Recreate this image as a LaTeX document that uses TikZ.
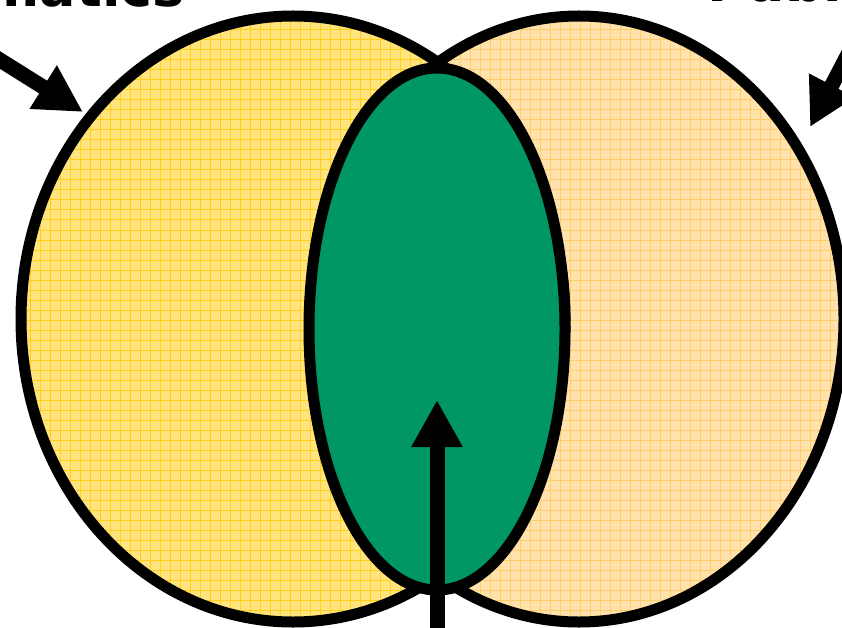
\documentclass[tikz,border=0pt]{standalone}
\usepackage{fontspec}
\setmainfont{DejaVu Sans}
\usetikzlibrary{arrows.meta}
\definecolor{mathfill}{RGB}{255,228,128}\definecolor{mathgrid}{RGB}{255,207,25}
\definecolor{pubfill}{RGB}{255,226,172}\definecolor{pubgrid}{RGB}{255,205,110}
\definecolor{common}{RGB}{0,151,101}
\tikzset{set/.style={draw=black,line width=11pt},gridlines/.style={line width=1pt},
pointer/.style={line width=15pt,-{Triangle[length=47pt,width=48pt]}},
title/.style={font=\bfseries\fontsize{54}{60}\selectfont,inner sep=0pt}}

\begin{document}
\begin{tikzpicture}[x=1pt,y=-1pt]
\useasboundingbox (0,0) rectangle (842,628);
% two sets, filled with a fine grid
\begin{scope}\clip (293,319) ellipse [x radius=272,y radius=303];
\fill[mathfill] (0,0) rectangle (842,628);
\draw[gridlines,mathgrid] (0,0) grid[step=10pt] (842,628);
\end{scope}
\begin{scope}\clip (579,319) ellipse [x radius=265,y radius=303];
\fill[pubfill] (0,0) rectangle (842,628);
\draw[gridlines,pubgrid] (0,0) grid[step=10pt] (842,628);
\end{scope}
\draw[set] (293,319) ellipse [x radius=272,y radius=303];
\draw[set] (579,319) ellipse [x radius=265,y radius=303];
\draw[set,fill=common] (437,329) ellipse [x radius=128,y radius=261];
% labels sit mostly above the picture
\node[title,anchor=base east] (math) at (185,7) {Mathematics};
\node[title,anchor=base west] (pub) at (707,2) {Public};
\coordinate (mathtail) at (-40,35);\coordinate (mathtip) at (83,112);
\coordinate (pubtail) at (866,20);\coordinate (pubtip) at (810,127);
\coordinate (bothtail) at (437,650);\coordinate (bothtip) at (437,400);
\draw[pointer] (mathtail)--(mathtip);
\draw[pointer] (pubtail)--(pubtip);
\draw[pointer] (bothtail)--(bothtip);
\end{tikzpicture}
\end{document}
